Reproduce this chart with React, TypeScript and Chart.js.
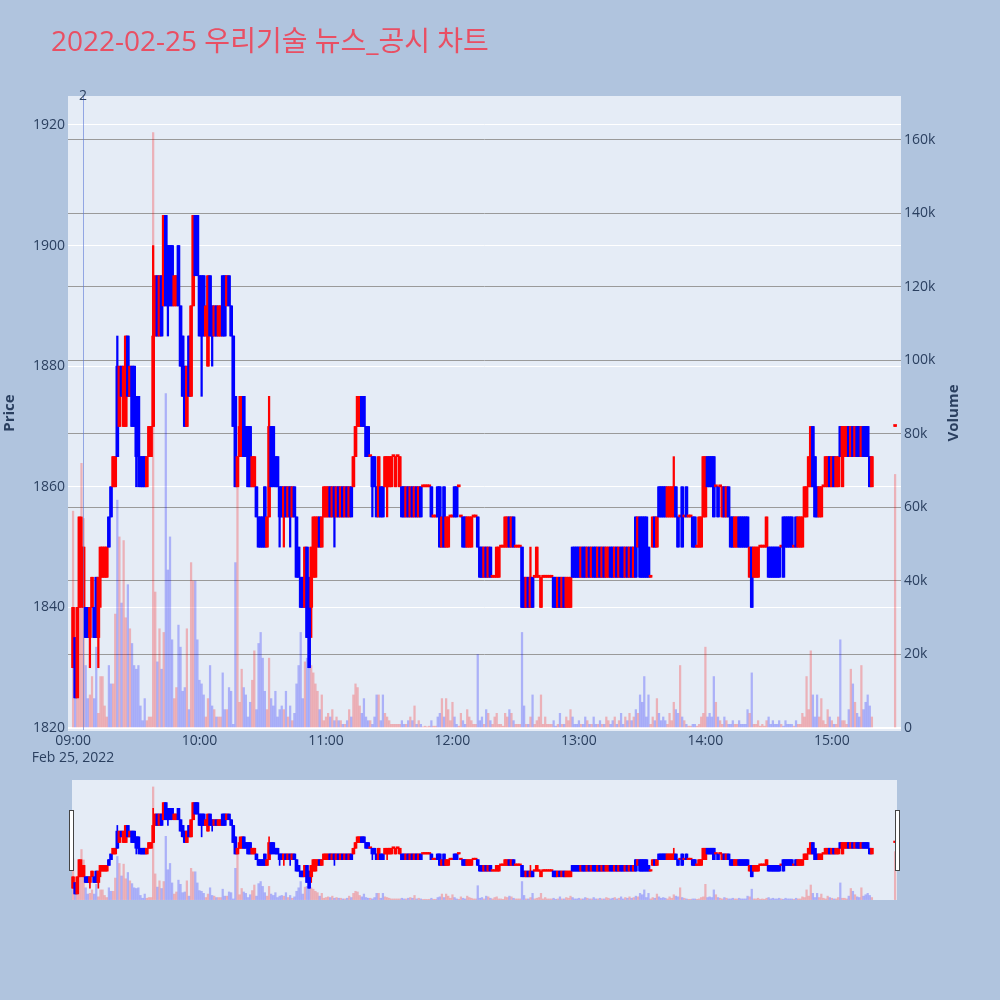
import { useEffect, useRef } from 'react';
import { Chart, registerables } from 'chart.js';

Chart.register(...registerables);

const FONT = '"Open Sans", "Noto Sans CJK KR", "DejaVu Sans", sans-serif';
const TEXT = '#2a3f5f';

const chartTitle = '2022-02-25 우리기술 뉴스_공시 차트';
const dateLabel = 'Feb 25, 2022';
const newsLabel = '2';
const newsMinute = 4.75;
const auctionMinute = 390;
const sessionLength = 380;

const priceTicks = [1820, 1840, 1860, 1880, 1900, 1920];
const volumeTicks = [0, 20000, 40000, 60000, 80000, 100000, 120000, 140000, 160000];
const timeTicks = [0, 60, 120, 180, 240, 300, 360];

// minute candles from 09:00 to 15:19, then the 15:30 closing auction
const openPrice = [
  1830,1835,1825,1840,1845,1840,1840,1840,1835,1840, 1840,1845,1835,1845,1845,1845,1845,1855,1860,1860,
  1860,1880,1870,1880,1870,1870,1885,1875,1880,1880, 1875,1875,1865,1865,1865,1860,1865,1865,1870,1885,
  1895,1885,1895,1890,1905,1900,1900,1900,1890,1890, 1900,1890,1885,1880,1870,1885,1875,1890,1905,1905,
  1895,1895,1895,1885,1880,1895,1890,1885,1890,1885, 1885,1895,1895,1890,1895,1890,1885,1875,1860,1865,
  1865,1875,1870,1870,1870,1860,1860,1860,1855,1855, 1855,1860,1850,1855,1870,1870,1865,1865,1860,1860,
  1855,1860,1855,1860,1855,1860,1855,1850,1845,1845, 1840,1850,1845,1840,1845,1845,1850,1855,1850,1855,
  1855,1855,1860,1855,1860,1855,1860,1855,1860,1855, 1860,1855,1860,1860,1865,1870,1870,1875,1875,1870,
  1870,1865,1865,1865,1860,1855,1860,1860,1860,1860, 1860,1860,1865,1860,1865,1860,1860,1860,1855,1860,
  1855,1860,1855,1860,1855,1860,1860,1860,1860,1860, 1860,1855,1855,1860,1860,1850,1860,1850,1850,1855,
  1855,1860,1860,1860,1855,1855,1855,1850,1850,1850, 1855,1855,1855,1850,1850,1845,1850,1845,1850,1845,
  1845,1845,1845,1850,1850,1850,1850,1855,1850,1855, 1850,1850,1850,1850,1845,1840,1845,1840,1845,1845,
  1845,1845,1840,1845,1845,1845,1845,1845,1845,1845, 1840,1845,1840,1845,1840,1840,1840,1850,1850,1850,
  1850,1845,1850,1850,1845,1850,1845,1850,1850,1845, 1850,1845,1850,1845,1845,1850,1850,1845,1850,1845,
  1850,1850,1845,1850,1845,1850,1845,1855,1850,1855, 1855,1855,1855,1850,1845,1850,1855,1850,1860,1860,
  1860,1860,1855,1855,1855,1855,1860,1855,1855,1860, 1855,1860,1855,1855,1855,1855,1850,1850,1850,1855,
  1855,1865,1865,1865,1865,1860,1860,1860,1855,1860, 1855,1860,1855,1855,1850,1850,1855,1855,1855,1855,
  1855,1845,1850,1845,1845,1845,1850,1850,1850,1850, 1850,1850,1850,1850,1850,1850,1850,1855,1855,1855,
  1855,1855,1850,1855,1850,1850,1850,1855,1855,1860, 1860,1870,1865,1860,1855,1855,1860,1860,1860,1865,
  1860,1865,1860,1860,1870,1860,1865,1865,1870,1865, 1870,1865,1870,1870,1865,1870,1870,1870,1865,1860,
  1870,
];

const highPrice = [
  1840,1835,1840,1855,1855,1850,1840,1840,1840,1845, 1840,1845,1845,1850,1850,1850,1850,1855,1860,1865,
  1865,1885,1880,1880,1880,1885,1885,1880,1880,1880, 1875,1875,1865,1865,1865,1865,1870,1870,1900,1895,
  1895,1895,1895,1905,1905,1900,1900,1900,1895,1895, 1900,1890,1885,1880,1880,1885,1890,1905,1905,1905,
  1895,1895,1895,1890,1895,1895,1890,1890,1890,1890, 1890,1895,1895,1895,1895,1890,1885,1875,1865,1875,
  1875,1875,1870,1870,1870,1865,1865,1860,1855,1855, 1855,1860,1855,1875,1870,1870,1865,1865,1860,1860,
  1860,1860,1860,1860,1860,1860,1855,1850,1845,1845, 1850,1850,1845,1850,1855,1855,1855,1855,1855,1860,
  1860,1860,1860,1860,1860,1860,1860,1860,1860,1860, 1860,1860,1860,1865,1870,1875,1875,1875,1875,1870,
  1870,1865,1865,1865,1860,1865,1860,1860,1865,1865, 1865,1865,1865,1865,1865,1865,1860,1860,1860,1860,
  1860,1860,1860,1860,1860,1860,1860,1860,1860,1860, 1860,1855,1855,1860,1860,1855,1860,1855,1855,1855,
  1855,1860,1860,1860,1855,1855,1855,1855,1855,1855, 1855,1855,1855,1850,1850,1850,1850,1850,1850,1845,
  1845,1850,1850,1850,1850,1855,1855,1855,1855,1855, 1850,1850,1850,1850,1845,1845,1845,1850,1845,1845,
  1850,1845,1845,1845,1845,1845,1845,1845,1845,1845, 1845,1845,1845,1845,1845,1845,1845,1850,1850,1850,
  1850,1850,1850,1850,1850,1850,1850,1850,1850,1850, 1850,1850,1850,1850,1850,1850,1850,1850,1850,1850,
  1850,1850,1850,1850,1850,1850,1850,1855,1855,1855, 1855,1855,1855,1850,1845,1855,1855,1855,1860,1860,
  1860,1860,1860,1860,1860,1865,1860,1855,1855,1860, 1855,1860,1855,1855,1855,1855,1850,1855,1855,1865,
  1865,1865,1865,1865,1865,1860,1860,1860,1860,1860, 1860,1860,1855,1855,1855,1855,1855,1855,1855,1855,
  1855,1850,1850,1850,1850,1850,1850,1850,1850,1855, 1850,1850,1850,1850,1850,1850,1850,1855,1855,1855,
  1855,1855,1850,1855,1855,1855,1855,1860,1860,1865, 1870,1870,1865,1860,1860,1860,1860,1865,1865,1865,
  1865,1865,1865,1865,1870,1870,1870,1870,1870,1870, 1870,1870,1870,1870,1870,1870,1870,1870,1865,1865,
  1870,
];

const lowPrice = [
  1830,1825,1825,1840,1840,1840,1835,1835,1830,1840, 1835,1835,1830,1840,1845,1845,1845,1850,1855,1860,
  1860,1865,1870,1875,1870,1870,1875,1875,1870,1870, 1860,1860,1860,1860,1860,1860,1865,1865,1870,1885,
  1885,1885,1885,1890,1890,1885,1890,1890,1890,1890, 1890,1880,1875,1870,1870,1875,1875,1890,1895,1895,
  1885,1875,1885,1885,1880,1885,1880,1885,1885,1885, 1885,1885,1885,1890,1890,1885,1870,1860,1860,1865,
  1865,1865,1865,1860,1860,1860,1860,1855,1850,1850, 1850,1850,1850,1855,1860,1860,1860,1860,1850,1855,
  1850,1855,1855,1850,1855,1855,1845,1845,1840,1840, 1840,1835,1830,1835,1845,1845,1850,1850,1850,1855,
  1855,1855,1855,1855,1850,1855,1855,1855,1855,1855, 1855,1855,1855,1860,1865,1870,1870,1870,1870,1865,
  1865,1865,1855,1860,1855,1855,1855,1855,1860,1855, 1860,1860,1865,1860,1865,1860,1855,1855,1855,1855,
  1855,1855,1855,1855,1855,1855,1860,1860,1860,1860, 1855,1855,1855,1855,1850,1850,1850,1850,1850,1855,
  1855,1855,1855,1860,1855,1850,1850,1850,1850,1850, 1855,1855,1850,1845,1845,1845,1845,1845,1845,1845,
  1845,1845,1845,1850,1850,1850,1850,1850,1850,1850, 1850,1850,1850,1840,1840,1840,1840,1840,1840,1845,
  1845,1845,1840,1845,1845,1845,1845,1845,1840,1840, 1840,1840,1840,1840,1840,1840,1840,1845,1845,1845,
  1845,1845,1845,1845,1845,1845,1845,1845,1845,1845, 1845,1845,1845,1845,1845,1845,1845,1845,1845,1845,
  1845,1845,1845,1845,1845,1845,1845,1845,1850,1845, 1845,1845,1845,1845,1845,1850,1850,1850,1855,1855,
  1855,1855,1855,1855,1855,1855,1855,1850,1855,1850, 1855,1855,1855,1855,1850,1850,1850,1850,1850,1855,
  1855,1860,1860,1860,1855,1860,1855,1860,1855,1855, 1855,1855,1850,1850,1850,1850,1850,1850,1850,1850,
  1850,1845,1840,1845,1845,1845,1850,1850,1850,1850, 1845,1845,1845,1845,1845,1845,1850,1845,1850,1850,
  1850,1850,1850,1850,1850,1850,1850,1855,1855,1860, 1860,1860,1855,1855,1855,1855,1860,1860,1860,1860,
  1860,1860,1860,1860,1865,1860,1865,1865,1865,1865, 1865,1865,1865,1865,1865,1865,1865,1865,1860,1860,
  1870,
];

const closePrice = [
  1840,1825,1840,1855,1850,1850,1835,1835,1840,1845, 1835,1835,1845,1850,1850,1850,1850,1850,1855,1865,
  1865,1865,1880,1875,1880,1885,1875,1880,1870,1870, 1865,1865,1860,1860,1860,1865,1870,1870,1885,1895,
  1885,1895,1885,1905,1890,1890,1890,1890,1895,1895, 1890,1880,1875,1870,1880,1875,1890,1905,1895,1895,
  1885,1885,1885,1890,1895,1885,1885,1890,1885,1890, 1890,1885,1885,1895,1890,1885,1870,1860,1865,1870,
  1875,1865,1865,1860,1860,1865,1865,1855,1850,1850, 1850,1850,1855,1870,1860,1865,1860,1860,1855,1855,
  1860,1855,1860,1855,1860,1855,1845,1845,1840,1840, 1850,1835,1830,1850,1855,1855,1855,1850,1855,1860,
  1860,1860,1855,1860,1855,1860,1855,1860,1855,1860, 1855,1860,1855,1865,1870,1875,1875,1870,1870,1865,
  1865,1865,1860,1860,1855,1865,1855,1855,1865,1865, 1865,1865,1865,1865,1865,1865,1855,1855,1860,1855,
  1860,1855,1860,1855,1860,1855,1860,1860,1860,1860, 1855,1855,1855,1855,1850,1855,1850,1855,1855,1855,
  1855,1855,1855,1860,1855,1850,1850,1855,1855,1855, 1855,1855,1850,1845,1845,1850,1845,1850,1845,1845,
  1845,1850,1850,1850,1850,1855,1855,1850,1855,1850, 1850,1850,1850,1840,1840,1845,1840,1845,1840,1845,
  1850,1845,1845,1845,1845,1845,1845,1845,1840,1840, 1845,1840,1845,1840,1845,1845,1845,1845,1845,1845,
  1845,1850,1845,1845,1850,1845,1850,1845,1845,1850, 1845,1850,1845,1850,1850,1845,1845,1850,1845,1850,
  1845,1845,1850,1845,1850,1845,1850,1845,1855,1845, 1845,1845,1845,1845,1845,1855,1850,1855,1855,1855,
  1855,1855,1860,1860,1860,1860,1855,1850,1855,1850, 1855,1855,1855,1855,1850,1850,1850,1855,1855,1865,
  1865,1860,1860,1860,1855,1860,1855,1860,1860,1855, 1860,1855,1850,1850,1855,1855,1850,1850,1850,1850,
  1850,1850,1840,1850,1850,1850,1850,1850,1850,1855, 1845,1845,1845,1845,1845,1845,1850,1845,1850,1850,
  1850,1850,1850,1850,1855,1855,1855,1860,1860,1865, 1870,1860,1855,1855,1860,1860,1860,1865,1865,1860,
  1865,1860,1865,1865,1865,1870,1870,1870,1865,1870, 1865,1870,1865,1865,1870,1865,1865,1865,1860,1865,
  1870,
];

// traded volume, in thousands of shares
const volumeK = [
  59,16,30,43,72,57,17,8,9,14, 8,22,4,14,14,6,3,17,12,12,
  31,62,52,34,51,30,39,27,23,17, 16,17,6,2,8,2,3,3,162,37,
  18,27,16,26,91,43,52,24,8,11, 28,22,10,11,27,5,45,40,40,24,
  13,12,9,3,8,17,6,5,3,3, 3,15,5,5,11,10,1,45,66,7,
  16,11,9,3,7,13,21,5,23,26, 19,10,5,19,8,6,10,3,5,6,
  5,10,3,6,2,4,12,17,26,8, 18,19,19,17,15,12,10,5,9,2,
  3,4,3,5,2,3,2,2,1,1, 2,5,3,9,12,11,6,4,8,3,
  2,2,1,3,9,9,2,9,4,3, 2,1,1,1,1,1,2,1,1,2,
  3,2,6,1,2,1,0.3,0.5,0.3,0.5, 2,0.5,0.5,3,4,8,3,8,5,2,
  7,3,1,0.5,4,2,1,5,3,2, 1,1,20,2,3,1,5,4,2,1,
  3,4,1,1,0.5,4,3,5,4,2, 1,1,1,26,6,1,1,3,9,1,
  2,3,9,1,3,1,1,1,2,0.5, 1,4,1,1,3,2,5,3,1,1,
  2,1,1,3,2,1,1,3,1,1, 2,1,1,3,2,1,2,3,1,2,
  4,1,3,2,4,2,3,5,4,9, 7,14,3,9,1,3,2,8,4,2,
  3,2,1,4,2,7,5,4,17,3, 2,1,0.5,0.5,1,1,0.5,1,3,4,
  22,3,4,3,14,7,3,2,1,3, 2,1,1,2,1,1,2,1,1,1,
  5,4,15,1,1,2,0.5,1,0.5,2, 3,1,2,1,1,2,1,0.5,2,1,
  1,1,0.5,2,1,1,4,3,14,5, 21,9,3,9,3,8,2,1,5,3,
  2,1,1,3,24,2,2,1,5,16, 12,7,4,3,17,5,7,9,6,3,
  69,
];

const UP = '#ff0000';
const DOWN = '#0000ff';
const UP_VOL = 'rgba(255,0,0,0.25)';
const DOWN_VOL = 'rgba(0,0,255,0.25)';

const minuteAt = (i: number) => (i < sessionLength ? i : auctionMinute);
const isUp = (i: number) => closePrice[i] >= openPrice[i];

const X_MIN = -2.4;
const X_MAX = 392.8;
const P_MIN = 1819.67;
const P_MAX = 1924.8;
const V_MIN = -544;
const V_MAX = 171970;

function datasets(bodyW: number, wickW: number, volW: number, minLen: number) {
  const idx = openPrice.map((_, i) => i);
  return [
    {
      label: 'body',
      data: idx.map((i) => ({ x: minuteAt(i), y: [openPrice[i], closePrice[i]] })),
      backgroundColor: idx.map((i) => (isUp(i) ? UP : DOWN)),
      barThickness: bodyW,
      minBarLength: minLen,
      grouped: false,
      yAxisID: 'y',
      order: 1,
    },
    {
      label: 'wick',
      data: idx.map((i) => ({ x: minuteAt(i), y: [lowPrice[i], highPrice[i]] })),
      backgroundColor: idx.map((i) => (isUp(i) ? UP : DOWN)),
      barThickness: wickW,
      grouped: false,
      yAxisID: 'y',
      order: 2,
    },
    {
      label: 'volume',
      data: idx.map((i) => ({ x: minuteAt(i), y: volumeK[i] * 1000 })),
      backgroundColor: idx.map((i) => (isUp(i) ? UP_VOL : DOWN_VOL)),
      barThickness: volW,
      grouped: false,
      yAxisID: 'y1',
      order: 3,
    },
  ];
}

const fmtTime = (v: number) => {
  const h = 9 + Math.floor(v / 60);
  const m = v % 60;
  return `${String(h).padStart(2, '0')}:${String(m).padStart(2, '0')}`;
};

const mainDecor = {
  id: 'mainDecor',
  beforeDraw(chart: any) {
    const { ctx, chartArea: a } = chart;
    ctx.save();
    ctx.fillStyle = '#E5ECF6';
    ctx.fillRect(a.left, a.top, a.right - a.left, a.bottom - a.top + 1);
    ctx.restore();
  },
  afterDatasetsDraw(chart: any) {
    const { ctx, chartArea: a } = chart;
    const x = Math.round(chart.scales.x.getPixelForValue(newsMinute)) + 0.5;
    ctx.save();
    ctx.strokeStyle = 'rgba(90,120,215,0.6)';
    ctx.lineWidth = 1;
    ctx.beginPath();
    ctx.moveTo(x, a.top);
    ctx.lineTo(x, a.bottom);
    ctx.stroke();
    ctx.restore();
  },
  afterDraw(chart: any) {
    const { ctx, chartArea: a } = chart;
    ctx.save();
    ctx.fillStyle = '#e94f63';
    ctx.font = `28px ${FONT}`;
    ctx.textAlign = 'left';
    ctx.textBaseline = 'alphabetic';
    ctx.fillText(chartTitle, 51, 50.5);

    ctx.fillStyle = TEXT;
    ctx.font = `14px ${FONT}`;
    ctx.textAlign = 'center';
    ctx.textBaseline = 'middle';
    ctx.fillText(newsLabel, chart.scales.x.getPixelForValue(newsMinute), a.top);

    const cy = (a.top + a.bottom) / 2;
    ctx.font = `bold 15px ${FONT}`;
    ctx.translate(10, cy);
    ctx.rotate(-Math.PI / 2);
    ctx.fillText('Price', 0, 0);
    ctx.restore();

    ctx.save();
    ctx.fillStyle = TEXT;
    ctx.font = `bold 15px ${FONT}`;
    ctx.textAlign = 'center';
    ctx.textBaseline = 'middle';
    ctx.translate(954, cy);
    ctx.rotate(-Math.PI / 2);
    ctx.fillText('Volume', 0, 0);
    ctx.restore();
  },
};

const sliderDecor = {
  id: 'sliderDecor',
  beforeDraw(chart: any) {
    const { ctx } = chart;
    ctx.save();
    ctx.fillStyle = '#E5ECF6';
    ctx.fillRect(4, 0, 825, 120);
    ctx.restore();
  },
  afterDraw(chart: any) {
    const { ctx } = chart;
    ctx.save();
    ctx.fillStyle = '#ffffff';
    ctx.strokeStyle = '#444444';
    ctx.lineWidth = 1;
    for (const hx of [1.5, 827.5]) {
      ctx.fillRect(hx, 30.5, 4, 60);
      ctx.strokeRect(hx, 30.5, 4, 60);
    }
    ctx.restore();
  },
};

export default function App() {
  const mainRef = useRef<HTMLCanvasElement>(null);
  const sliderRef = useRef<HTMLCanvasElement>(null);

  useEffect(() => {
    Chart.defaults.font.family = FONT;
    const tickFont = { size: 14, family: FONT };
    const main = new Chart(mainRef.current as HTMLCanvasElement, {
      type: 'bar',
      data: { datasets: datasets(3, 1.6, 1.6, 2) as any },
      plugins: [mainDecor],
      options: {
        animation: false,
        responsive: false,
        devicePixelRatio: 1,
        layout: { padding: { top: 96, left: 0, right: 0, bottom: 0 } },
        plugins: { legend: { display: false }, tooltip: { enabled: false }, title: { display: false } },
        scales: {
          x: {
            type: 'linear',
            min: X_MIN,
            max: X_MAX,
            offset: false,
            grid: { display: false, drawTicks: false },
            border: { display: false },
            afterBuildTicks: (s: any) => { s.ticks = timeTicks.map((v) => ({ value: v })); },
            afterFit: (s: any) => { s.height = 270; },
            ticks: {
              padding: 3,
              maxRotation: 0,
              autoSkip: false,
              color: TEXT,
              font: tickFont,
              callback: (v: any) => (Number(v) === 0 ? [fmtTime(0), dateLabel] : fmtTime(Number(v))),
            },
          },
          y: {
            type: 'linear',
            position: 'left',
            min: P_MIN,
            max: P_MAX,
            grid: { color: '#ffffff', lineWidth: 1, drawTicks: false },
            border: { display: false },
            afterBuildTicks: (s: any) => { s.ticks = priceTicks.map((v) => ({ value: v })); },
            afterFit: (s: any) => { s.width = 68; },
            ticks: { padding: 3, color: TEXT, font: tickFont, callback: (v: any) => String(v) },
          },
          y1: {
            type: 'linear',
            position: 'right',
            min: V_MIN,
            max: V_MAX,
            grid: {
              color: (c: any) => (c.tick && c.tick.value === 0 ? '#ffffff' : '#9a9a9a'),
              lineWidth: (c: any) => (c.tick && c.tick.value === 0 ? 2 : 1),
              drawTicks: false,
            },
            border: { display: false },
            afterBuildTicks: (s: any) => { s.ticks = volumeTicks.map((v) => ({ value: v })); },
            afterFit: (s: any) => { s.width = 99; },
            ticks: {
              padding: 3,
              color: TEXT,
              font: tickFont,
              callback: (v: any) => (Number(v) === 0 ? '0' : `${Number(v) / 1000}k`),
            },
          },
        },
      } as any,
    });

    const slider = new Chart(sliderRef.current as HTMLCanvasElement, {
      type: 'bar',
      data: { datasets: datasets(3, 1, 1.6, 1.5) as any },
      plugins: [sliderDecor],
      options: {
        animation: false,
        responsive: false,
        devicePixelRatio: 1,
        layout: { padding: 0 },
        plugins: { legend: { display: false }, tooltip: { enabled: false } },
        scales: {
          x: { type: 'linear', min: X_MIN, max: X_MAX, offset: false, display: false },
          y: { type: 'linear', min: P_MIN, max: P_MAX, display: false },
          y1: { type: 'linear', min: V_MIN, max: V_MAX, display: false },
        },
      } as any,
    });

    return () => {
      main.destroy();
      slider.destroy();
    };
  }, []);

  return (
    <div style={{ position: 'absolute', left: 0, top: 0, width: 1000, height: 1000, background: '#B0C4DE', overflow: 'hidden' }}>
      <canvas ref={mainRef} width={1000} height={1000} style={{ position: 'absolute', left: 0, top: 0, width: 1000, height: 1000 }} />
      <canvas ref={sliderRef} width={833} height={120} style={{ position: 'absolute', left: 68, top: 780, width: 833, height: 120 }} />
    </div>
  );
}
